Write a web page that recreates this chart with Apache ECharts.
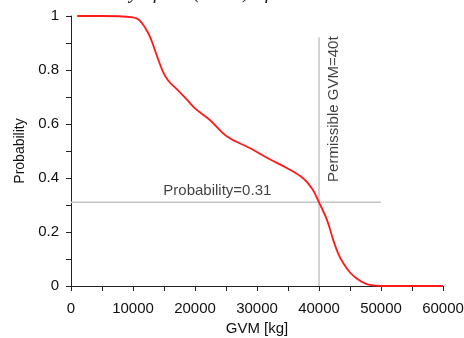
<!DOCTYPE html>
<html>
<head>
<meta charset="utf-8">
<script src="https://cdn.jsdelivr.net/npm/echarts@6/dist/echarts.min.js"></script>
<style>
  html, body { margin: 0; padding: 0; background: #fff; }
  #chart { width: 464px; height: 338px; }
</style>
</head>
<body>
<div id="chart"></div>
<script>
// GVM [kg] vs probability
const gvm = [1000, 5000, 10000, 11000, 12000, 12800, 13900, 14800, 15700, 17100, 18700, 20000,
  22400, 25100, 28900, 31600, 34800, 37400, 38900, 40000, 41300, 42300, 43100, 43900, 45000,
  46100, 47200, 48200, 50000, 60000];
const prob = [1.0, 1.0, 0.995, 0.985, 0.955, 0.92, 0.85, 0.795, 0.76, 0.728, 0.69, 0.658,
  0.615, 0.555, 0.51, 0.475, 0.437, 0.40, 0.36, 0.31, 0.244, 0.17, 0.12, 0.085, 0.05,
  0.028, 0.012, 0.004, 0, 0];

// reference lines
const hLineX = [0, 50000];
const hLineY = 0.31;
const vLineX = 40000;
const vLineY = [0, 0.92];

const hLabel = 'Probability=0.31';
const hLabelAt = [23600, 0.31];
const vLabel = 'Permissible GVM=40t';
const vLabelAt = [40000, 0.655];

const font = 'Liberation Sans, Arial, sans-serif';
const chart = echarts.init(document.getElementById('chart'), null, { renderer: 'canvas' });

chart.setOption({
  animation: false,
  backgroundColor: '#fff',
  textStyle: { fontFamily: font },
  grid: { left: 71, right: 21, top: 16, bottom: 52, outerBoundsMode: 'none' },
  graphic: [{
    type: 'text',
    left: 48,
    top: -17,
    style: {
      text: 'Probability of the (GVM) of static vehicles',
      font: 'italic 20px "Liberation Serif", serif',
      fill: '#222'
    }
  }],
  xAxis: {
    type: 'value',
    min: 0,
    max: 60000,
    interval: 5000,
    name: 'GVM [kg]',
    nameLocation: 'middle',
    nameGap: 34,
    nameTextStyle: { fontSize: 15, color: '#111' },
    axisLine: { lineStyle: { color: '#222', width: 1 } },
    axisTick: { length: 5, lineStyle: { color: '#222' } },
    axisLabel: {
      fontSize: 15, color: '#111', margin: 15,
      formatter: v => (v % 10000 === 0 ? String(v) : '')
    },
    splitLine: { show: false }
  },
  yAxis: {
    type: 'value',
    min: 0,
    max: 1,
    interval: 0.1,
    name: 'Probability',
    nameLocation: 'middle',
    nameGap: 41,
    nameTextStyle: { fontSize: 14, color: '#111' },
    axisLine: { show: true, lineStyle: { color: '#222', width: 1 } },
    axisTick: { show: true, length: 5, lineStyle: { color: '#222' } },
    axisLabel: {
      fontSize: 15, color: '#111', margin: 12,
      formatter: v => (Math.round(v * 10) % 2 ? '' : String(+v.toFixed(1)))
    },
    splitLine: { show: false }
  },
  series: [
    {
      type: 'line',
      data: hLineX.map(x => [x, hLineY]),
      symbol: 'none',
      lineStyle: { color: '#c4c4c4', width: 1.5 },
      z: 1
    },
    {
      type: 'line',
      data: vLineY.map(y => [vLineX, y]),
      symbol: 'none',
      lineStyle: { color: '#c4c4c4', width: 1.5 },
      z: 1
    },
    {
      type: 'line',
      data: gvm.map((x, i) => [x, prob[i]]),
      symbol: 'none',
      smooth: 0.4,
      lineStyle: { color: '#ff1a1a', width: 1.8 },
      z: 3
    },
    {
      type: 'scatter',
      symbolSize: 0,
      data: [hLabelAt],
      label: {
        show: true, position: 'top', distance: 4,
        formatter: hLabel, fontSize: 15, color: '#111'
      }
    },
    {
      type: 'scatter',
      symbolSize: 0,
      data: [vLabelAt],
      label: {
        show: true, position: 'inside',
        rotate: 90, offset: [0, 15], align: 'center', verticalAlign: 'middle',
        formatter: vLabel, fontSize: 15, color: '#111'
      }
    }
  ]
});
</script>
</body>
</html>
